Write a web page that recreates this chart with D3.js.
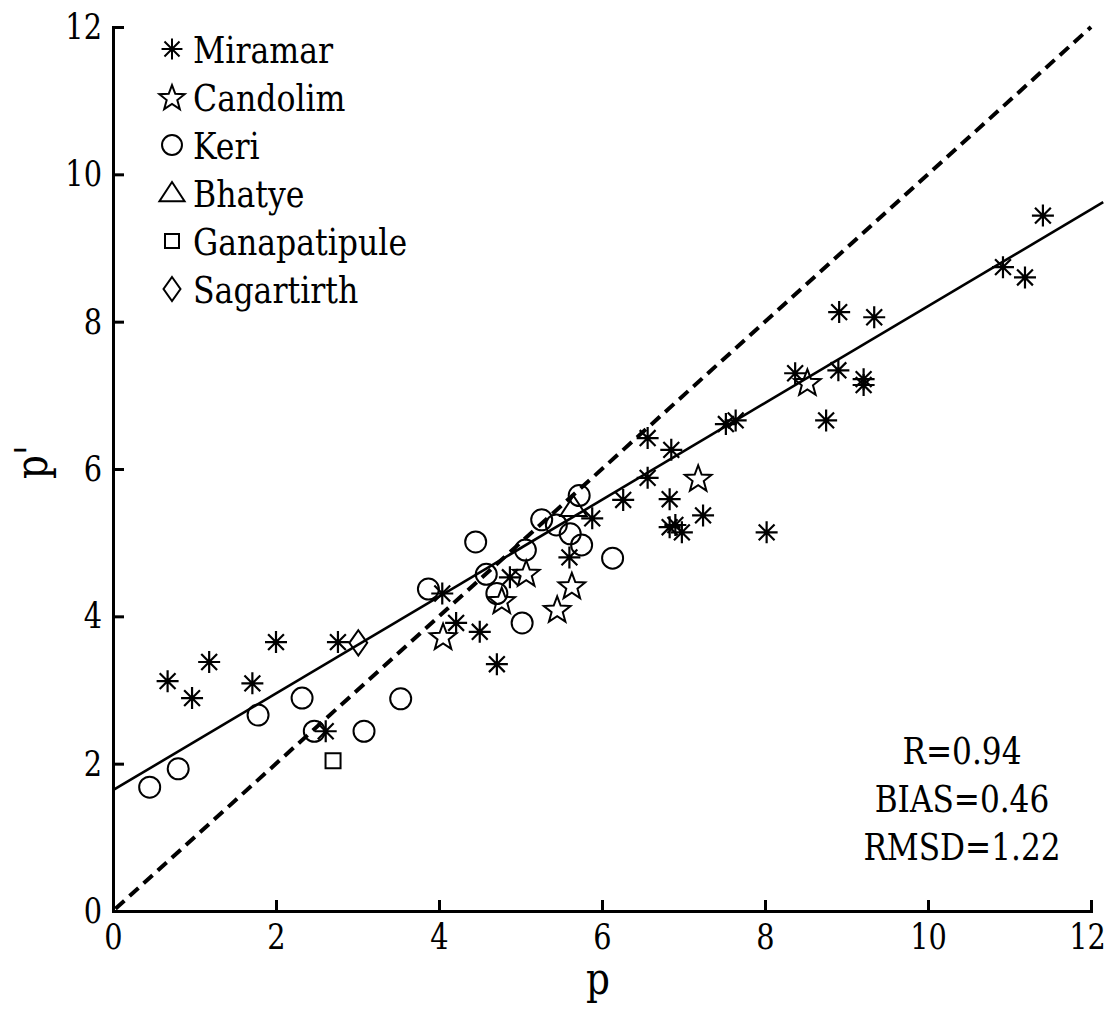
<!DOCTYPE html>
<html>
<head>
<meta charset="utf-8">
<script src="https://cdn.jsdelivr.net/npm/d3@7"></script>
<style>
  body { margin: 0; background: #fff; }
  svg text { fill: #000; }
</style>
</head>
<body>
<div class="viz"></div>
<script>
// observed p vs estimated p' for each beach
const miramarX = [0.67, 0.97, 1.18, 1.71, 2.00, 2.76, 2.61, 4.04, 4.21, 4.50, 4.71, 4.87, 5.60, 5.88, 6.26, 6.56, 6.56, 6.85, 6.83, 6.83, 6.90, 6.98, 7.24, 8.02, 7.52, 7.64, 8.37, 8.90, 8.91, 9.34, 9.21, 9.21, 8.75, 10.92, 11.19, 11.41];
const miramarY = [3.12, 2.89, 3.38, 3.09, 3.65, 3.65, 2.44, 4.31, 3.91, 3.79, 3.35, 4.53, 4.80, 5.33, 5.58, 5.88, 6.42, 6.26, 5.59, 5.21, 5.24, 5.14, 5.37, 5.14, 6.61, 6.66, 7.30, 7.34, 8.13, 8.06, 7.22, 7.14, 6.66, 8.74, 8.60, 9.44];
const candolimX = [4.05, 4.77, 5.07, 5.45, 5.63, 7.18, 8.52];
const candolimY = [3.73, 4.22, 4.59, 4.10, 4.42, 5.88, 7.18];
const keriX = [0.45, 0.80, 1.78, 2.32, 2.47, 3.08, 3.53, 3.87, 4.45, 4.58, 4.71, 5.02, 5.06, 5.26, 5.44, 5.61, 5.75, 5.72, 6.13];
const keriY = [1.68, 1.93, 2.66, 2.89, 2.44, 2.44, 2.88, 4.37, 5.01, 4.57, 4.31, 3.91, 4.90, 5.31, 5.24, 5.12, 4.97, 5.64, 4.79];
const bhatyeX = [5.65];
const bhatyeY = [5.48];
const ganapatipuleX = [2.70];
const ganapatipuleY = [2.04];
const sagartirthX = [3.01];
const sagartirthY = [3.64];

const siteNames = ["Miramar", "Candolim", "Keri", "Bhatye", "Ganapatipule", "Sagartirth"];
const siteShapes = ["asterisk", "star", "circle", "triangle", "square", "diamond"];

const tickValues = [0, 2, 4, 6, 8, 10, 12];
const fitIntercept = 1.64, fitSlope = 0.657;
const statLines = ["R=0.94", "BIAS=0.46", "RMSD=1.22"];

const width = 1116, height = 1010;
const margin = {top: 27, right: 25, bottom: 99, left: 113};
const serif = '"DejaVu Serif", "Liberation Serif", serif';

const svg = d3.select('.viz').append('svg')
    .attr('width', width)
    .attr('height', height)
    .attr('font-family', serif);

const x = d3.scaleLinear().domain([0, 12]).range([margin.left, width - margin.right]);
const y = d3.scaleLinear().domain([0, 12]).range([height - margin.bottom, margin.top]);

// dejavu serif is wider than times, squeeze it a bit
const narrow = (sel, k) => sel.each(function() {
  const w = this.getComputedTextLength();
  d3.select(this).attr("textLength", w * k).attr("lengthAdjust", "spacingAndGlyphs");
});

// marker outlines, matlab style
const shapePath = {
  asterisk: r => {
    const d = r * 0.72;
    return `M0,${-r}V${r}M${-r},0H${r}M${-d},${-d}L${d},${d}M${-d},${d}L${d},${-d}`;
  },
  star: r => {
    const pts = d3.range(10).map(i => {
      const a = -Math.PI / 2 + i * Math.PI / 5, rr = i % 2 ? r * 0.42 : r;
      return [rr * Math.cos(a), rr * Math.sin(a) + r * 0.1];
    });
    return 'M' + pts.join('L') + 'Z';
  },
  circle: r => `M${r},0A${r},${r} 0 1,1 ${-r},0A${r},${r} 0 1,1 ${r},0Z`,
  triangle: r => `M0,${-r}L${r * 1.15},${r * 0.75}H${-r * 1.15}Z`,
  square: r => `M${-r},${-r}H${r}V${r}H${-r}Z`,
  diamond: r => `M0,${-r * 1.2}L${r * 0.85},0L0,${r * 1.2}L${-r * 0.85},0Z`
};
const shapeSize = {asterisk: 11, star: 14, circle: 10.5, triangle: 11.5, square: 7.5, diamond: 10.5};

const sites = [
  {xs: miramarX, ys: miramarY},
  {xs: candolimX, ys: candolimY},
  {xs: keriX, ys: keriY},
  {xs: bhatyeX, ys: bhatyeY},
  {xs: ganapatipuleX, ys: ganapatipuleY},
  {xs: sagartirthX, ys: sagartirthY}
].map((s, i) => ({name: siteNames[i], shape: siteShapes[i],
  pts: s.xs.map((v, j) => [v, s.ys[j]])}));

// 1:1 line
svg.append("line")
    .attr("x1", x(0.03)).attr("y1", y(0.03))
    .attr("x2", x(12)).attr("y2", y(12))
    .attr("stroke", "#000")
    .attr("stroke-width", 4)
    .attr("stroke-dasharray", "12,7");

// regression line
svg.append("line")
    .attr("x1", x(0)).attr("y1", y(fitIntercept))
    .attr("x2", x(12.15)).attr("y2", y(fitIntercept + fitSlope * 12.15))
    .attr("stroke", "#000")
    .attr("stroke-width", 2.6);

sites.forEach(s => {
  svg.append("g")
      .attr("fill", "none")
      .attr("stroke", "#000")
      .attr("stroke-width", s.shape === "asterisk" ? 2.2 : 2)
    .selectAll("path").data(s.pts).enter().append("path")
      .attr("transform", d => `translate(${x(d[0])},${y(d[1])})`)
      .attr("d", shapePath[s.shape](shapeSize[s.shape]));
});

const styleAxis = g => g
    .call(g => g.attr("font-family", serif))
    .call(g => g.select(".domain").attr("stroke-width", 3))
    .call(g => g.selectAll(".tick line").attr("stroke-width", 3))
    .call(g => g.selectAll(".tick text").attr("font-size", 36).attr("fill", "#000").call(narrow, 0.8));

svg.append("g")
    .attr("transform", `translate(0,${y(0)})`)
    .call(d3.axisBottom(x).tickValues(tickValues).tickSizeInner(-11).tickSizeOuter(-11).tickPadding(12))
    .call(styleAxis)
    // last label sits close to the edge, nudge it in like the original
    .call(g => g.selectAll(".tick text").filter(d => d === 12).attr("dx", -4));

svg.append("g")
    .attr("transform", `translate(${x(0)},0)`)
    .call(d3.axisLeft(y).tickValues(tickValues).tickSizeInner(-11).tickSizeOuter(-11).tickPadding(11))
    .call(styleAxis);

svg.append("text")
    .attr("x", x(6) - 4)
    .attr("y", 994)
    .attr("text-anchor", "middle")
    .attr("font-size", 44)
    .text("p")
    .call(narrow, 0.85);

svg.append("text")
    .attr("transform", "translate(47,462) rotate(-90)")
    .attr("text-anchor", "middle")
    .attr("font-size", 44)
    .text("p'")
    .call(narrow, 0.85);

// legend
const legend = svg.append("g").attr("transform", "translate(172,49)");
const rows = legend.selectAll("g").data(sites).enter().append("g")
    .attr("transform", (d, i) => `translate(0,${i * 48})`);
rows.append("path")
    .attr("d", d => shapePath[d.shape](d.shape === "square" ? 7 : shapeSize[d.shape] * 0.95))
    .attr("fill", "none")
    .attr("stroke", "#000")
    .attr("stroke-width", 2);
rows.append("text")
    .attr("x", 21)
    .attr("y", 14)
    .attr("font-size", 38)
    .text(d => d.name)
    .call(narrow, 0.83);

// statistics
svg.append("g").selectAll("text").data(statLines).enter().append("text")
    .attr("x", 962)
    .attr("y", (d, i) => 764 + i * 48)
    .attr("text-anchor", "middle")
    .attr("font-size", 38)
    .text(d => d)
    .call(narrow, 0.82);
</script>
</body>
</html>
